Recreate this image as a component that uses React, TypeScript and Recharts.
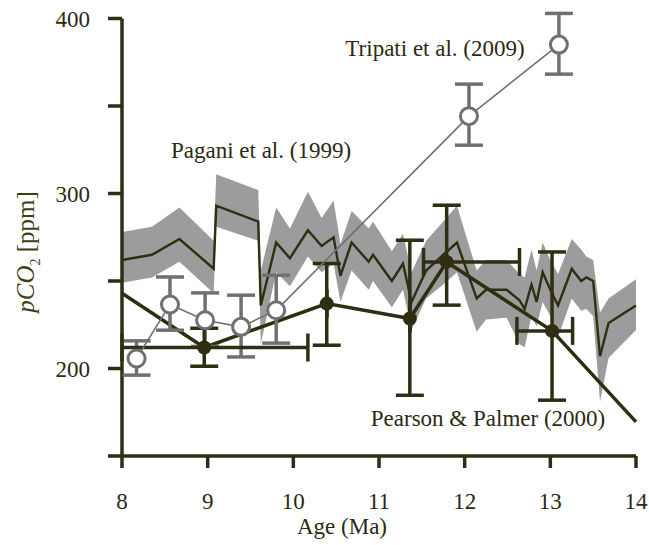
import { ComposedChart, Area, Line, Scatter, ErrorBar, XAxis, YAxis, ReferenceLine } from "recharts";

// Pagani et al. (1999): band + central estimate
const pagAge = [8.0, 8.35, 8.67, 9.07, 9.1, 9.59, 9.62, 9.8, 9.96, 10.17, 10.33, 10.47, 10.55, 10.68, 10.88, 10.93, 11.15, 11.28, 11.38, 11.55, 11.75, 11.91, 12.14, 12.25, 12.49, 12.64, 12.7, 12.78, 12.84, 12.91, 13.0, 13.09, 13.25, 13.36, 13.42, 13.5, 13.58, 13.68, 14.0];
const pagMid = [262, 265, 274, 257, 293, 284, 236, 272, 263, 279, 270, 275, 253, 272, 261, 265, 250, 260, 238, 256, 265, 272, 240, 245, 245, 239, 234, 248, 238, 255, 245, 236, 257, 250, 252, 250, 207, 226, 236];
const pagLow = [249, 252, 261, 243, 281, 273, 214, 255, 247, 264, 255, 260, 238, 256, 245, 250, 235, 245, 222, 240, 248, 255, 221, 228, 229, 214, 212, 230, 224, 238, 230, 218, 240, 233, 234, 230, 181, 206, 222];
const pagHigh = [278, 281, 292, 273, 311, 302, 256, 292, 280, 301, 286, 296, 271, 290, 280, 284, 267, 277, 255, 273, 284, 293, 256, 262, 262, 254, 252, 268, 256, 272, 262, 254, 274, 268, 264, 262, 232, 240, 251];

// Tripati et al. (2009)
const tripAge = [8.17, 8.56, 8.97, 9.39, 9.8, 12.05, 13.1];
const tripCO2 = [205.7, 236.6, 227.6, 223.8, 233.3, 344.2, 385.1];
const tripLo = [196.2, 221.9, 212.6, 206.6, 214.5, 327.6, 368.2];
const tripHi = [215.8, 252.3, 243.2, 241.9, 253.3, 362.5, 402.9];

// Pearson & Palmer (2000)
const pearAge = [8.96, 10.39, 11.36, 11.79, 13.02];
const pearCO2 = [212, 237.1, 228.6, 260.9, 221.5];
const pearLo = [201.3, 213.3, 184.7, 236.2, 181.9];
const pearHi = [223, 260, 273.3, 293.3, 266.6];
const pearAgeLo = [8.0, 10.39, 11.36, 11.52, 12.61];
const pearAgeHi = [10.17, 10.39, 11.36, 12.64, 13.26];
const pearLineAge = [8.0, 8.96, 10.39, 11.36, 11.79, 13.02, 14.0];
const pearLineCO2 = [243, 212, 237.1, 228.6, 260.9, 221.5, 169.5];

const xTicks = [8, 9, 10, 11, 12, 13, 14];
const yTicks = [150, 200, 250, 300, 350, 400];

const DARK = "#2e2e13";
const GREY = "#707070";
const BAND = "#9c9c9c";
const FONT = "'Liberation Serif', 'Times New Roman', serif";

const pagani = pagAge.map((x, i) => ({ x, band: [pagLow[i], pagHigh[i]], mid: pagMid[i] }));
const tripati = tripAge.map((x, i) => ({ x, y: tripCO2[i], ey: [tripCO2[i] - tripLo[i], tripHi[i] - tripCO2[i]] }));
const pearson = pearAge.map((x, i) => ({
  x, y: pearCO2[i],
  ey: [pearCO2[i] - pearLo[i], pearHi[i] - pearCO2[i]],
  ex: [x - pearAgeLo[i], pearAgeHi[i] - x],
}));
const pearLine = pearLineAge.map((x, i) => ({ x, y: pearLineCO2[i] }));

const OpenCircle = (p: any) => <circle cx={p.cx} cy={p.cy} r={8.5} fill="#fff" stroke={GREY} strokeWidth={3} />;
const FilledDot = (p: any) => <circle cx={p.cx} cy={p.cy} r={7} fill={DARK} />;

// y tick labels: only every 100 ppm, right edge at x=90
const YTick = (p: any) =>
  p.payload.value % 100 === 0 ? (
    <text x={90} y={p.y} dy="0.35em" textAnchor="end" fill="#2a2a10" fontSize={23} fontFamily={FONT}>
      {p.payload.value}
    </text>
  ) : <g />;

const TXT: React.CSSProperties = {
  position: "absolute", fontFamily: FONT, fontSize: 23, color: "#2a2a10",
  whiteSpace: "nowrap", transform: "translate(-50%, -50%)", lineHeight: 1,
};

export default function App() {
  return (
    <div style={{ position: "relative", width: 649, height: 545, background: "#fff" }}>
      <style>{"body{margin:0}"}</style>
      <ComposedChart width={649} height={545} margin={{ top: 1, right: 13, left: 60, bottom: 39 }}>
        <XAxis type="number" dataKey="x" domain={[8, 14]} ticks={xTicks} allowDecimals={false}
          height={50} tickSize={12} tickMargin={25}
          axisLine={{ stroke: DARK, strokeWidth: 3.5 }} tickLine={{ stroke: DARK, strokeWidth: 3.5 }}
          tick={{ fill: "#2a2a10", fontSize: 23, fontFamily: FONT }} />
        <YAxis type="number" domain={[150, 410]} ticks={yTicks} width={62}
          tickSize={14} axisLine={false}
          tickLine={{ stroke: DARK, strokeWidth: 3.5 }} tick={YTick} />
        <ReferenceLine segment={[{ x: 8, y: 150 }, { x: 8, y: 400 }]} stroke={DARK} strokeWidth={3.5} />
        <Area data={pagani} dataKey="band" type="linear" fill={BAND} fillOpacity={1} stroke="none" isAnimationActive={false} />
        <Line data={pagani} dataKey="mid" type="linear" stroke={DARK} strokeWidth={2.4} dot={false} isAnimationActive={false} />
        <Line data={pearLine} dataKey="y" type="linear" stroke={DARK} strokeWidth={3.5} dot={false} isAnimationActive={false} />
        <Scatter data={tripati} dataKey="y" shape={OpenCircle} isAnimationActive={false}
          line={{ stroke: GREY, strokeWidth: 1.6 }}>
          <ErrorBar dataKey="ey" direction="y" width={14} stroke={GREY} strokeWidth={3.5} />
        </Scatter>
        <Scatter data={pearson} dataKey="y" shape={FilledDot} isAnimationActive={false}>
          <ErrorBar dataKey="ey" direction="y" width={14} stroke={DARK} strokeWidth={3.5} />
          <ErrorBar dataKey="ex" direction="x" width={14} stroke={DARK} strokeWidth={3.5} />
        </Scatter>
      </ComposedChart>
      <div style={{ ...TXT, left: 435, top: 48 }}>Tripati et al. (2009)</div>
      <div style={{ ...TXT, left: 261, top: 150 }}>Pagani et al. (1999)</div>
      <div style={{ ...TXT, left: 488, top: 418 }}>Pearson &amp; Palmer (2000)</div>
      <div style={{ ...TXT, left: 342, top: 526 }}>Age (Ma)</div>
      <div style={{ ...TXT, fontSize: 25, left: 28, top: 252, transform: "translate(-50%, -50%) rotate(-90deg)", color: "#3f3f18" }}>
        <i>p</i><i>CO</i><sub style={{ fontSize: 14 }}>2</sub> [ppm]
      </div>
    </div>
  );
}
